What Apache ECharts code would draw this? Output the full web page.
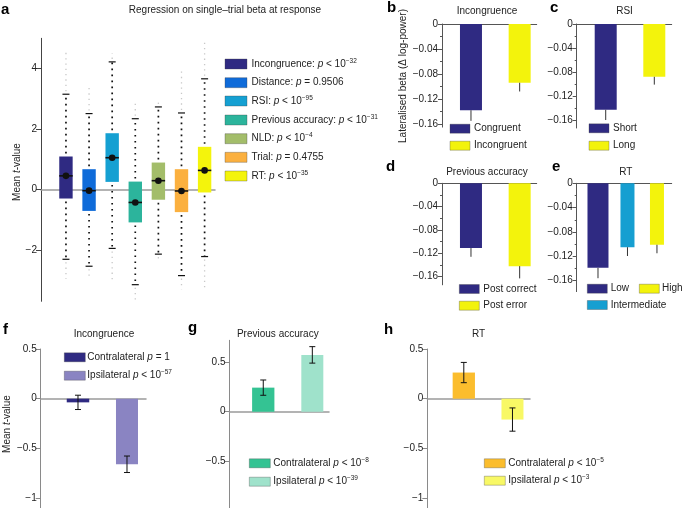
<!DOCTYPE html>
<html><head><meta charset="utf-8">
<script src="https://cdn.jsdelivr.net/npm/echarts@6/dist/echarts.min.js"></script>
<style>html,body{margin:0;padding:0;background:#fff}#c{width:682px;height:508px}</style>
</head><body><div id="c"></div>
<script>
// ---------- DATA ----------
// Panel a: box plots of t-values
const aCategories = ['Incongruence', 'Distance', 'RSI', 'Previous accuracy', 'NLD', 'Trial', 'RT'];
const aLegendText = ['Incongruence: {i|p} < 10{s|\u221232}', 'Distance: {i|p} = 0.9506', 'RSI: {i|p} < 10{s|\u221295}',
  'Previous accuracy: {i|p} < 10{s|\u221231}', 'NLD: {i|p} < 10{s|\u22124}', 'Trial: {i|p} = 0.4755', 'RT: {i|p} < 10{s|\u221235}'];
const aQ1 = [-0.30, -0.71, 0.25, -1.09, -0.34, -0.75, -0.10];
const aMedian = [0.45, -0.04, 1.05, -0.43, 0.29, -0.05, 0.63];
const aQ3 = [1.09, 0.67, 1.86, 0.26, 0.89, 0.67, 1.41];
const aWhiskerLow = [-2.31, -2.54, -1.95, -3.15, -2.14, -2.85, -2.22];
const aWhiskerHigh = [3.15, 2.51, 4.22, 2.34, 2.73, 2.53, 3.66];
const aOutlierLow = [-2.96, -2.96, -2.99, -3.70, -2.41, -3.31, -3.25];
const aOutlierHigh = [4.57, 3.48, 4.51, 2.87, 2.99, 4.03, 4.98];
const aTicks = [-2, 0, 2, 4];

// Panels b-e: lateralised beta (mean, error)
const bCategories = ['Congruent', 'Incongruent'];
const bValues = [-0.138, -0.094];
const bErrors = [0.017, 0.014];
const cCategories = ['Short', 'Long'];
const cValues = [-0.143, -0.088];
const cErrors = [0.017, 0.013];
const dCategories = ['Post correct', 'Post error'];
const dValues = [-0.111, -0.142];
const dErrors = [0.015, 0.021];
const eCategories = ['Low', 'Intermediate', 'High'];
const eValues = [-0.139, -0.105, -0.101];
const eErrors = [0.017, 0.0145, 0.014];
const betaTicks = [0, -0.04, -0.08, -0.12, -0.16];
const betaMinorTicks = [-0.02, -0.06, -0.10, -0.14];

// Panels f-h: mean t-value contralateral / ipsilateral
const fCategories = ['Contralateral', 'Ipsilateral'];
const fLegendText = ['Contralateral {i|p} = 1', 'Ipsilateral {i|p} < 10{s|\u221257}'];
const fValues = [-0.037, -0.660];
const fErrors = [0.072, 0.083];
const gLegendText = ['Contralateral {i|p} < 10{s|\u22128}', 'Ipsilateral {i|p} < 10{s|\u221239}'];
const gValues = [0.243, 0.573];
const gErrors = [0.077, 0.083];
const hLegendText = ['Contralateral {i|p} < 10{s|\u22125}', 'Ipsilateral {i|p} < 10{s|\u22123}'];
const hValues = [0.263, -0.210];
const hErrors = [0.102, 0.117];
const tTicks = [0.5, 0, -0.5, -1];

// ---------- STYLE ----------
const FONT = '"Liberation Sans", Arial, Helvetica, sans-serif';
const FS = 10;
const PURPLE = '#2f2a82', YELLOW = '#f3f30c', CYAN = '#169fd1';
const aColors = ['#2f2a82', '#0f6bd9', '#15a0d2', '#2cb49c', '#a3bd6a', '#fbb03f', '#f4f40c'];
const bColors = [PURPLE, YELLOW], cColors = [PURPLE, YELLOW], dColors = [PURPLE, YELLOW];
const eColors = [PURPLE, CYAN, YELLOW];
const fColors = ['#2f2a82', '#8a84c2'], gColors = ['#34c393', '#9fe2cb'], hColors = ['#fbbd2d', '#f8f865'];

const fmt = v => (v < 0 ? '\u2212' : '') + String(Math.abs(+(+v).toFixed(3)));

function gridBox(l, t, w, h) { return {left: l, top: t, width: w, height: h, containLabel: false}; }
function xAx(gi, min, max, color, width) {
  return {type: 'value', gridIndex: gi, min, max,
    axisLine: {show: true, onZero: true, lineStyle: {color, width}},
    axisTick: {show: false}, axisLabel: {show: false}, splitLine: {show: false}};
}
function xHidden(gi, min, max) {
  return {type: 'value', gridIndex: gi, min, max, show: false, splitLine: {show: false}};
}
function yAx(gi, min, max, ticks, color, tickLen) {
  return {type: 'value', gridIndex: gi, min, max, position: 'left',
    axisLine: {show: true, onZero: false, lineStyle: {color, width: 1}},
    axisTick: {show: true, inside: false, length: tickLen, customValues: ticks, lineStyle: {color, width: 1}},
    axisLabel: {show: true, customValues: ticks, formatter: fmt, color: '#222', fontSize: FS, fontFamily: FONT, margin: 4},
    splitLine: {show: false}};
}
function yMinor(gi, min, max, ticks, color) {
  return {type: 'value', gridIndex: gi, min, max, position: 'left',
    axisLine: {show: false},
    axisTick: {show: true, inside: false, length: 2, customValues: ticks, lineStyle: {color, width: 1}},
    axisLabel: {show: false}, splitLine: {show: false}};
}

// grids: 0 a, 1 b, 2 c, 3 d, 4 e, 5 f, 6 g, 7 h, 8-11 minor-tick overlays for b-e
const G = [
  gridBox(41, 38.3, 174, 263),
  gridBox(442, 24, 94.7, 103.1),
  gridBox(576.7, 24, 95, 104),
  gridBox(442, 183.3, 94.7, 101.5),
  gridBox(576.7, 183.3, 95, 108.3),
  gridBox(40.7, 349, 105.3, 160),
  gridBox(229.5, 340.3, 99.5, 169),
  gridBox(427.3, 349, 102.7, 160)
];
const yRanges = [[-3.7, 5], [-0.165, 0], [-0.1733, 0], [-0.174, 0], [-0.178, 0], [-1.1, 0.5], [-0.97, 0.72], [-1.1, 0.5]];
const xRanges = [[-0.08, 7.45], [0.405, 2.35], [0.403, 2.358], [0.405, 2.35], [0.278, 3.5], [0.239, 2.388], [0.312, 2.34], [0.25, 2.36]];
for (let k = 1; k <= 4; k++) G.push(Object.assign({}, G[k]));

const xAxes = [], yAxes = [];
xAxes.push(xAx(0, xRanges[0][0], xRanges[0][1], '#9a9a9a', 1.5));
yAxes.push(yAx(0, yRanges[0][0], yRanges[0][1], aTicks, '#444', 5));
for (let k = 1; k <= 4; k++) {
  xAxes.push(xAx(k, xRanges[k][0], xRanges[k][1], '#555', 1));
  yAxes.push(yAx(k, yRanges[k][0], yRanges[k][1], betaTicks, '#555', 4));
}
for (let k = 5; k <= 7; k++) {
  xAxes.push(xAx(k, xRanges[k][0], xRanges[k][1], '#9a9a9a', 1.5));
  yAxes.push(yAx(k, yRanges[k][0], yRanges[k][1], tTicks, '#8a8a8a', 5));
}
for (let k = 1; k <= 4; k++) {
  xAxes.push(xHidden(7 + k, xRanges[k][0], xRanges[k][1]));
  yAxes.push(yMinor(7 + k, yRanges[k][0], yRanges[k][1], betaMinorTicks, '#555'));
}

// ---------- RENDERERS ----------
function renderBox(params, api) {
  const i = params.dataIndex;
  const x = api.value(0);
  const q1 = api.value(1), med = api.value(2), q3 = api.value(3);
  const wl = api.value(4), wh = api.value(5), ol = api.value(6), oh = api.value(7);
  const cx = api.coord([x, 0])[0];
  const Y = v => api.coord([x, v])[1];
  const bw = 13.4;
  const dotFaint = {stroke: '#c8c8c8', lineWidth: 1.3, lineDash: [1.3, 4]};
  const dotW = {stroke: '#111', lineWidth: 1.7, lineDash: [1.7, 4.3]};
  const cap = {stroke: '#111', lineWidth: 1.2};
  return {type: 'group', children: [
    {type: 'line', shape: {x1: cx, y1: Y(wh) - 3, x2: cx, y2: Y(oh)}, style: dotFaint},
    {type: 'line', shape: {x1: cx, y1: Y(wl) + 3, x2: cx, y2: Y(ol)}, style: dotFaint},
    {type: 'line', shape: {x1: cx, y1: Y(q3) - 3, x2: cx, y2: Y(wh)}, style: dotW},
    {type: 'line', shape: {x1: cx, y1: Y(q1) + 3, x2: cx, y2: Y(wl)}, style: dotW},
    {type: 'line', shape: {x1: cx - 3.5, y1: Y(wh), x2: cx + 3.5, y2: Y(wh)}, style: cap},
    {type: 'line', shape: {x1: cx - 3.5, y1: Y(wl), x2: cx + 3.5, y2: Y(wl)}, style: cap},
    {type: 'rect', shape: {x: cx - bw / 2, y: Y(q3), width: bw, height: Y(q1) - Y(q3)}, style: {fill: aColors[i]}},
    {type: 'line', shape: {x1: cx - bw / 2, y1: Y(med), x2: cx + bw / 2, y2: Y(med)}, style: {stroke: '#111', lineWidth: 1.6}},
    {type: 'circle', shape: {cx: cx, cy: Y(med), r: 3.3}, style: {fill: '#111'}}
  ]};
}
function makeBarRender(colors, widths, capped) {
  return function (params, api) {
    const i = params.dataIndex;
    const x = api.value(0), v = api.value(1), e = api.value(2);
    const p0 = api.coord([x, 0]), p1 = api.coord([x, v]);
    const w = widths[i], cx = p0[0];
    const ch = [{type: 'rect', shape: {x: cx - w / 2, y: Math.min(p0[1], p1[1]), width: w, height: Math.abs(p1[1] - p0[1])},
      style: {fill: colors[i]}}];
    if (capped) {
      const a = api.coord([x, v + e])[1], b = api.coord([x, v - e])[1];
      const st = {stroke: '#111', lineWidth: 1};
      ch.push({type: 'line', shape: {x1: cx, y1: a, x2: cx, y2: b}, style: st});
      ch.push({type: 'line', shape: {x1: cx - 3, y1: a, x2: cx + 3, y2: a}, style: st});
      ch.push({type: 'line', shape: {x1: cx - 3, y1: b, x2: cx + 3, y2: b}, style: st});
    } else {
      const end = api.coord([x, v - e])[1];
      ch.push({type: 'line', shape: {x1: cx, y1: p1[1], x2: cx, y2: end}, style: {stroke: '#333', lineWidth: 1}});
    }
    return {type: 'group', children: ch};
  };
}
const barData = (vals, errs) => vals.map((v, i) => [i + 1, v, errs[i]]);

const series = [
  {type: 'custom', xAxisIndex: 0, yAxisIndex: 0, renderItem: renderBox, clip: false,
    data: aCategories.map((c, i) => [i + 1, aQ1[i], aMedian[i], aQ3[i], aWhiskerLow[i], aWhiskerHigh[i], aOutlierLow[i], aOutlierHigh[i]])},
  {type: 'custom', xAxisIndex: 1, yAxisIndex: 1, renderItem: makeBarRender(bColors, [22, 22], false), data: barData(bValues, bErrors), clip: false},
  {type: 'custom', xAxisIndex: 2, yAxisIndex: 2, renderItem: makeBarRender(cColors, [22, 22], false), data: barData(cValues, cErrors), clip: false},
  {type: 'custom', xAxisIndex: 3, yAxisIndex: 3, renderItem: makeBarRender(dColors, [22, 22], false), data: barData(dValues, dErrors), clip: false},
  {type: 'custom', xAxisIndex: 4, yAxisIndex: 4, renderItem: makeBarRender(eColors, [21, 14, 14], false), data: barData(eValues, eErrors), clip: false},
  {type: 'custom', xAxisIndex: 5, yAxisIndex: 5, renderItem: makeBarRender(fColors, [22.5, 22], true), data: barData(fValues, fErrors), clip: false},
  {type: 'custom', xAxisIndex: 6, yAxisIndex: 6, renderItem: makeBarRender(gColors, [22.3, 22], true), data: barData(gValues, gErrors), clip: false},
  {type: 'custom', xAxisIndex: 7, yAxisIndex: 7, renderItem: makeBarRender(hColors, [22.3, 22], true), data: barData(hValues, hErrors), clip: false}
];

// ---------- TEXT / LEGENDS ----------
const rich = {
  i: {fontStyle: 'italic', fontSize: FS, fontFamily: FONT, fill: '#222', lineHeight: 13},
  s: {fontSize: 6.5, fontFamily: FONT, fill: '#222', verticalAlign: 'top', lineHeight: 6}
};
function txt(x, y, text, o) {
  o = o || {};
  return {type: 'text', x, y, rotation: o.rot || 0, z: 10,
    style: {text, align: o.align || 'left', verticalAlign: 'middle', fontSize: o.size || FS,
      fontWeight: o.bold ? 'bold' : 'normal', fontFamily: FONT, fill: o.color || '#222', rich, lineHeight: 13}};
}
function legend(bx, by, w, h, color, tx, text) {
  return [
    {type: 'rect', z: 10, shape: {x: bx, y: by - h / 2, width: w, height: h}, style: {fill: color, stroke: 'rgba(60,60,60,0.55)', lineWidth: 0.6}},
    txt(tx, by, text)
  ];
}
const graphics = [];
// panel letters
[['a', 1, 10], ['b', 387, 8], ['c', 550, 8], ['d', 386, 167], ['e', 552, 167], ['f', 3, 330], ['g', 188, 328], ['h', 384, 330]]
  .forEach(([t, x, y]) => graphics.push(txt(x, y, t, {bold: true, size: 15, color: '#000'})));
// titles
graphics.push(txt(225, 10, 'Regression on single\u2013trial beta at response', {align: 'center'}));
graphics.push(txt(487, 11, 'Incongruence', {align: 'center'}));
graphics.push(txt(624.5, 11, 'RSI', {align: 'center'}));
graphics.push(txt(487, 172, 'Previous accuracy', {align: 'center'}));
graphics.push(txt(625.7, 172, 'RT', {align: 'center'}));
graphics.push(txt(104, 334.5, 'Incongruence', {align: 'center'}));
graphics.push(txt(277.8, 334, 'Previous accuracy', {align: 'center'}));
graphics.push(txt(478.5, 334, 'RT', {align: 'center'}));
// axis names
graphics.push(txt(17, 172, 'Mean {i|t}-value', {align: 'center', rot: Math.PI / 2}));
graphics.push(txt(403, 76, 'Lateralised beta (\u0394 log-power)', {align: 'center', rot: Math.PI / 2}));
graphics.push(txt(7, 424, 'Mean {i|t}-value', {align: 'center', rot: Math.PI / 2}));
// legend a
const aRows = [64, 82.7, 101, 120, 138.7, 157.3, 176];
aLegendText.forEach((t, i) => graphics.push(...legend(225, aRows[i], 22, 10, aColors[i], 251.5, t)));
// legends b-e
bCategories.forEach((t, i) => graphics.push(...legend(450, [128.7, 145.7][i], 20, 9, bColors[i], 474, t)));
cCategories.forEach((t, i) => graphics.push(...legend(589, [128.3, 145.7][i], 20, 9, cColors[i], 613, t)));
dCategories.forEach((t, i) => graphics.push(...legend(459.3, [289, 305.7][i], 20, 9, dColors[i], 483.3, t)));
const ePos = [[587.3, 288.7, 610.7], [587.3, 305, 610.7], [639.3, 288.7, 662]];
eCategories.forEach((t, i) => graphics.push(...legend(ePos[i][0], ePos[i][1], 20, 9, eColors[i], ePos[i][2], t)));
// legends f-h
fLegendText.forEach((t, i) => graphics.push(...legend(64.3, [357.3, 375.7][i], 21, 9, fColors[i], 87.3, t)));
gLegendText.forEach((t, i) => graphics.push(...legend(249.3, [463.3, 481.7][i], 21, 9, gColors[i], 273.3, t)));
hLegendText.forEach((t, i) => graphics.push(...legend(484.3, [463.3, 480.7][i], 21, 9, hColors[i], 508.3, t)));

const chart = echarts.init(document.getElementById('c'));
chart.setOption({
  backgroundColor: '#fff',
  animation: false,
  grid: G,
  xAxis: xAxes,
  yAxis: yAxes,
  series: series,
  graphic: {elements: graphics}
});
</script></body></html>
